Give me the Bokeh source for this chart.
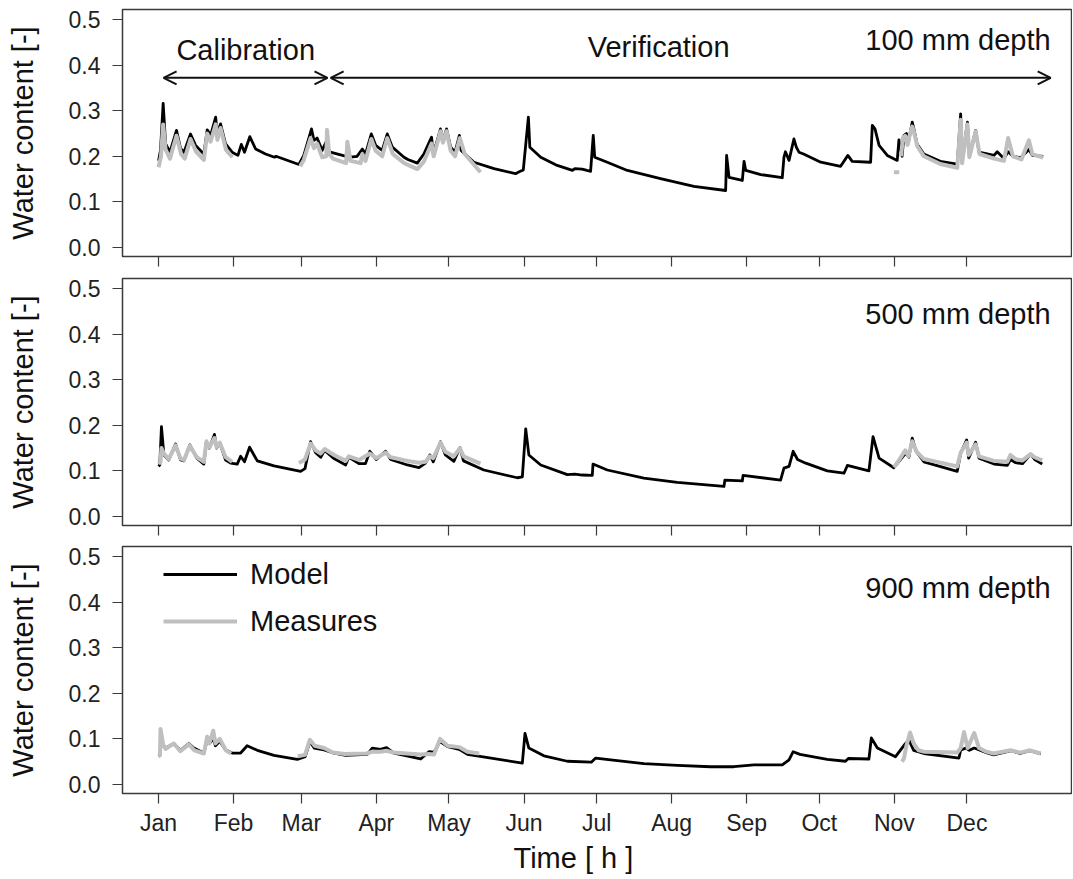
import math
from bokeh.plotting import figure
from bokeh.models import (Range1d, FixedTicker, NumeralTickFormatter, Label, Arrow,
                          OpenHead, Legend, LegendItem, ColumnDataSource, Title)
from bokeh.layouts import column
from bokeh.embed import file_html
from bokeh.resources import INLINE

NaN = float("nan")

# ---------------- data (x = day of year, 0 = 1 Jan) ----------------
month_ticks = [0, 31, 59, 90, 120, 151, 181, 212, 243, 273, 304, 334]
month_labels = ["Jan", "Feb", "Mar", "Apr", "May", "Jun",
                "Jul", "Aug", "Sep", "Oct", "Nov", "Dec"]
y_ticks = [0.0, 0.1, 0.2, 0.3, 0.4, 0.5]
depth_labels = ["100 mm depth", "500 mm depth", "900 mm depth"]
series_names = ["Model", "Measures"]

# 100 mm depth - model
m100_day = [0, 0.8, 1.9, 2.9, 4.7, 7.4, 9.1, 10.5, 13.2, 15.3, 18.7, 20.1, 21.5, 23.6, 24.2,
            25.6, 27.7, 30.4, 32.8, 34.2, 35.5, 37.7, 40.1, 44.2, 47.9, 48.5, 58, 60, 63.2,
            64.2, 65.5, 67.6, 69.5, 70.5, 71, 77.5, 78, 79.3, 82, 84.2, 85.5, 87.9, 89.7,
            92.4, 94.5, 96.6, 101.4, 103, 106.9, 109.6, 112.8, 113.5, 116.5, 117.5, 119,
            120.7, 122.5, 124.3, 125, 130.3, 138.6, 147.5, 149, 150.7, 152.8, 153.4, 157.9,
            164.7, 171, 172, 175, 177, 178.5, 179.6, 180.2, 185.4, 193.7, 207.4, 221.2,
            234.3, 234.7, 235.7, 241.2, 241.9, 242.6, 248.8, 257.7, 258.4, 259, 260.5,
            262.5, 263.5, 264.6, 266.5, 273.6, 281.8, 284.8, 286.6, 294.2, 294.9, 296,
            297.7, 301.1, 305.2, 305.9, 307.2, 308, 309, 310, 311.4, 312, 313.4, 316.2, 323,
            330, 331.4, 332, 334.2, 335, 337.6, 339, 345.2, 346.5, 349.3, 351, 353, 356.2,
            359.6, 361, 365.5]
m100_val = [0.19, 0.213, 0.316, 0.228, 0.209, 0.257, 0.217, 0.209, 0.249, 0.224, 0.205, 0.258,
            0.246, 0.286, 0.249, 0.271, 0.227, 0.209, 0.202, 0.226, 0.209, 0.243, 0.216, 0.205,
            0.198, 0.2, 0.182, 0.202, 0.26, 0.235, 0.24, 0.213, 0.235, 0.21, 0.209, 0.2, 0.215,
            0.198, 0.2, 0.216, 0.205, 0.249, 0.224, 0.213, 0.249, 0.22, 0.198, 0.193, 0.185,
            0.205, 0.242, 0.205, 0.26, 0.235, 0.26, 0.22, 0.209, 0.246, 0.213, 0.187, 0.173,
            0.162, 0.166, 0.17, 0.286, 0.22, 0.198, 0.18, 0.169, 0.173, 0.172, 0.169, 0.167,
            0.246, 0.198, 0.187, 0.169, 0.151, 0.134, 0.125, 0.202, 0.154, 0.147, 0.189,
            0.169, 0.16, 0.153, 0.198, 0.21, 0.191, 0.238, 0.22, 0.209, 0.205, 0.187, 0.178,
            0.202, 0.189, 0.187, 0.268, 0.26, 0.224, 0.202, 0.191, 0.236, 0.2, 0.246, 0.25,
            0.235, 0.275, 0.262, 0.227, 0.205, 0.189, 0.183, 0.293, 0.19, 0.275, 0.2, 0.257,
            0.209, 0.202, 0.21, 0.195, 0.21, 0.2, 0.197, 0.215, 0.202, 0.2]

# 100 mm depth - measures (NaN = no data)
g100_day = [0, 1, 1.9, 2.9, 4.7, 7.4, 9.3, 10.8, 13.2, 15.5, 18.7, 20.1, 21.5, 23.6, 24.3, 25.6,
            27.9, 30.5, NaN,
            58.5, 60, 62.8, 64.2, 65.5, 67.6, 69.3, 69.6, 70.5, 72, 77.5, 78, 79.3, 83.5, 84.2,
            85.5, 87.9, 89.7, 92.4, 94.5, 96.8, 101.5, 106.9, 109.6, 112.8, 113.7, 116.5,
            117.5, 119, 120.7, 122.5, 124.5, 126.5, 133, NaN,
            303.8, 306, NaN,
            306.8, 307.5, 308.5, 309.5, 310.5, 311.4, 312, 313.5, 316.2, 323, 330, 331.4, 332,
            334.2, 335, 337.6, 339.2, 345.2, 349.3, 351, 353, 356.5, 359.6, 361, 365.5]
g100_val = [0.176, 0.2, 0.27, 0.215, 0.195, 0.245, 0.205, 0.195, 0.238, 0.21, 0.192, 0.25,
            0.232, 0.27, 0.236, 0.262, 0.214, 0.198, NaN,
            0.178, 0.192, 0.24, 0.218, 0.228, 0.198, 0.2, 0.258, 0.205, 0.195, 0.185, 0.232,
            0.19, 0.185, 0.205, 0.19, 0.238, 0.212, 0.2, 0.24, 0.205, 0.185, 0.172, 0.188,
            0.228, 0.2, 0.255, 0.23, 0.255, 0.212, 0.2, 0.24, 0.205, 0.165, NaN,
            0.165, 0.165, NaN,
            0.2, 0.24, 0.245, 0.225, 0.25, 0.265, 0.255, 0.222, 0.2, 0.183, 0.175, 0.28, 0.185,
            0.27, 0.198, 0.255, 0.205, 0.195, 0.19, 0.24, 0.2, 0.193, 0.235, 0.205, 0.197]

# 500 mm depth - model
m500_day = [0, 0.5, 1.2, 2.2, 4.2, 7, 9.1, 10.5, 12.9, 15.8, 18.7, 19.8, 21, 23.1, 24, 25.3,
            27.7, 29.8, 32.5, 33.9, 35.5, 37.6, 40.8, 47.7, 58.7, 60.5, 62.8, 64.9, 67, 68.6,
            72.5, 77.3, 78.6, 82.8, 85.5, 87.3, 90, 93.8, 95.9, 102.8, 107.6, 110.3, 112.1,
            113.5, 116.5, 118.5, 122, 124.5, 126, 134.4, 148.2, 150.3, 151.7, 153, 157.9,
            168.9, 172, 175, 179.2, 179.5, 185.4, 200.5, 214.3, 233.6, 234, 241.2, 241.5, 257,
            258.4, 260.5, 262.2, 264, 267.4, 276.3, 283.2, 284.6, 293.5, 295.2, 297.7, 303.8,
            305, 308.7, 310, 311.4, 313, 316.2, 330, 331.4, 333.9, 334.7, 337.6, 339, 345.2,
            350.7, 352, 354, 357, 360.3, 362, 365.1]
m500_val = [0.11, 0.113, 0.197, 0.135, 0.124, 0.159, 0.124, 0.122, 0.157, 0.128, 0.115, 0.164,
            0.15, 0.18, 0.15, 0.161, 0.124, 0.117, 0.115, 0.132, 0.12, 0.152, 0.122, 0.111,
            0.099, 0.105, 0.164, 0.14, 0.13, 0.145, 0.127, 0.113, 0.13, 0.116, 0.116, 0.143,
            0.125, 0.143, 0.125, 0.113, 0.107, 0.117, 0.135, 0.12, 0.164, 0.135, 0.121, 0.151,
            0.122, 0.102, 0.085, 0.087, 0.192, 0.135, 0.113, 0.092, 0.093, 0.091, 0.09, 0.115,
            0.102, 0.084, 0.075, 0.066, 0.08, 0.078, 0.09, 0.08, 0.106, 0.11, 0.143, 0.125,
            0.117, 0.1, 0.095, 0.112, 0.1, 0.175, 0.128, 0.107, 0.115, 0.139, 0.13, 0.172,
            0.143, 0.12, 0.099, 0.139, 0.168, 0.128, 0.163, 0.128, 0.115, 0.112, 0.125, 0.118,
            0.116, 0.137, 0.125, 0.115]

# 500 mm depth - measures
g500_day = [0, 0.8, 1.2, 2.2, 4.2, 7, 9.1, 10.5, 12.9, 15.8, 18.7, 19.8, 21, 23.1, 24, 25.3,
            27.7, 30.4, NaN,
            58, 60.5, 62.8, 64.9, 67, 68.6, 72.5, 77.3, 78.6, 82.8, 87.3, 90, 93.8, 95.9, 102.8,
            107.6, 110.3, 112.1, 113.5, 116.5, 118.5, 122, 124.5, 126, 133, NaN,
            303.8, 305.5, 308.5, 309.8, 311.4, 313.2, 316.2, 330, 331.4, 333.9, 334.7, 337.6,
            339, 345.2, 350.7, 352, 354, 357, 360.3, 362, 365.1]
g500_val = [0.115, 0.12, 0.15, 0.138, 0.126, 0.156, 0.127, 0.124, 0.155, 0.13, 0.12, 0.165,
            0.152, 0.172, 0.152, 0.162, 0.13, 0.12, NaN,
            0.117, 0.125, 0.16, 0.145, 0.138, 0.148, 0.135, 0.122, 0.132, 0.124, 0.138, 0.128,
            0.14, 0.13, 0.122, 0.118, 0.12, 0.132, 0.128, 0.162, 0.142, 0.132, 0.15, 0.132,
            0.116, NaN,
            0.108, 0.12, 0.145, 0.132, 0.165, 0.142, 0.126, 0.11, 0.14, 0.162, 0.135, 0.158,
            0.132, 0.122, 0.12, 0.135, 0.126, 0.123, 0.137, 0.13, 0.123]

# 900 mm depth - model
m900_day = [0, 0.6, 0.9, 1.5, 3, 6.3, 9, 12.5, 14.6, 18.7, 20.1, 21, 22.6, 23.5, 25.3, 27.7,
            30.4, 33.9, 36.6, 40.8, 47.7, 57.3, 60.6, 62.5, 64.3, 68.4, 72.5, 77.3, 86.2, 88.3,
            91.7, 94.2, 97.2, 108.3, 111.7, 113.8, 116.3, 119.4, 124.2, 127.6, 150.3, 151.4,
            153, 159.2, 168.9, 178.8, 180.6, 186.8, 200.5, 214.3, 228, 237.7, 246, 257.7,
            260.5, 262.2, 265, 276.3, 283.8, 285, 293.5, 294.5, 297, 304.5, 308, 310, 312,
            316.2, 330.7, 331.4, 333.5, 335, 337, 342, 345, 352, 356, 360, 364.5]
m900_val = [0.062, 0.064, 0.1, 0.09, 0.08, 0.09, 0.075, 0.09, 0.08, 0.069, 0.098, 0.09, 0.1,
            0.085, 0.095, 0.076, 0.069, 0.069, 0.085, 0.075, 0.064, 0.055, 0.061, 0.094, 0.08,
            0.076, 0.069, 0.064, 0.066, 0.08, 0.077, 0.081, 0.069, 0.056, 0.072, 0.071, 0.094,
            0.083, 0.077, 0.066, 0.047, 0.112, 0.08, 0.063, 0.051, 0.049, 0.058, 0.054, 0.046,
            0.042, 0.039, 0.039, 0.043, 0.043, 0.054, 0.072, 0.066, 0.055, 0.051, 0.057, 0.056,
            0.102, 0.08, 0.061, 0.086, 0.098, 0.075, 0.068, 0.058, 0.075, 0.08, 0.075, 0.08,
            0.07, 0.065, 0.074, 0.068, 0.074, 0.067]

# 900 mm depth - measures
g900_day = [0, 0.6, 0.8, 2, 3, 6.3, 9, 12.5, 14.8, 18.7, 20.1, 21, 22.6, 23.5, 25.3, 27.8, 30,
            NaN,
            57.5, 60.5, 62.5, 64.5, 68.4, 72, 77, 86, 88.3, 91.7, 94.2, 97, 108.3, 111.7, 113.8,
            116.3, 119.4, 124.2, 127.6, 132.5, NaN,
            307.2, 308, 309, 310.5, 312, 314, 316.2, 330, 331.4, 332.8, 334.3, 337, 339, 342,
            345, 352, 356, 360, 364.5]
g900_val = [0.062, 0.065, 0.122, 0.085, 0.078, 0.09, 0.073, 0.088, 0.075, 0.068, 0.105, 0.09,
            0.118, 0.09, 0.1, 0.075, 0.068, NaN,
            0.062, 0.065, 0.098, 0.085, 0.08, 0.07, 0.067, 0.068, 0.072, 0.072, 0.074, 0.07,
            0.066, 0.067, 0.066, 0.1, 0.085, 0.082, 0.072, 0.068, NaN,
            0.05, 0.058, 0.085, 0.114, 0.09, 0.075, 0.072, 0.07, 0.08, 0.115, 0.08, 0.113, 0.08,
            0.072, 0.068, 0.075, 0.07, 0.075, 0.068]

# ---------------- styling ----------------
FONT = "Liberation Sans"
FRAME = "#3a3a3a"
TEXT = "#111111"
MODEL_COLOR = "#000000"
MEAS_COLOR = "#bfbfbf"
W = 1072


def make_panel(height, top, bottom, show_labels):
    p = figure(width=W, height=height,
               x_range=Range1d(-14.9, 377.2), y_range=Range1d(-0.0197, 0.5219),
               output_backend="svg", toolbar_location=None,
               min_border_left=122, min_border_right=1,
               min_border_top=top, min_border_bottom=bottom)
    p.grid.visible = False
    p.outline_line_color = FRAME
    p.outline_line_width = 1.5
    p.background_fill_color = "white"
    p.border_fill_color = "white"

    ya = p.yaxis[0]
    ya.ticker = FixedTicker(ticks=y_ticks)
    ya.formatter = NumeralTickFormatter(format="0.0")
    ya.major_label_text_font = FONT
    ya.major_label_text_font_size = "23px"
    ya.major_label_text_color = "#222222"
    ya.major_label_standoff = 12
    ya.major_tick_out = 10
    ya.major_tick_in = 0
    ya.minor_tick_out = 0
    ya.minor_tick_in = 0
    ya.major_tick_line_color = FRAME
    ya.major_tick_line_width = 1.2
    ya.axis_line_color = None
    ya.axis_label = "Water content [-]"
    ya.axis_label_text_font = FONT
    ya.axis_label_text_font_size = "29px"
    ya.axis_label_text_font_style = "normal"
    ya.axis_label_text_color = TEXT
    ya.axis_label_standoff = 27

    xa = p.xaxis[0]
    xa.axis_line_color = None
    if show_labels:
        xa.ticker = FixedTicker(ticks=month_ticks)
        xa.major_label_overrides = {t: lab for t, lab in zip(month_ticks, month_labels)}
        xa.major_tick_out = 10
        xa.major_tick_in = 0
        xa.major_tick_line_color = FRAME
        xa.major_tick_line_width = 1.2
        xa.minor_tick_out = 0
        xa.minor_tick_in = 0
        xa.major_label_text_font = FONT
        xa.major_label_text_font_size = "23px"
        xa.major_label_text_color = "#222222"
        xa.major_label_standoff = 6
    else:
        # tick marks only (no labels): month positions drawn as minor ticks
        xa.ticker = FixedTicker(ticks=[], minor_ticks=month_ticks)
        xa.minor_tick_out = 10
        xa.minor_tick_in = 0
        xa.minor_tick_line_color = FRAME
        xa.minor_tick_line_width = 1.2
        xa.major_tick_out = 0
        xa.major_tick_in = 0
    return p


def add_series(p, mday, mval, gday, gval):
    rm = p.line(x="x", y="y", source=ColumnDataSource(dict(x=mday, y=mval)),
                line_color=MODEL_COLOR, line_width=2.8, line_join="round")
    rg = p.line(x="x", y="y", source=ColumnDataSource(dict(x=gday, y=gval)),
                line_color=MEAS_COLOR, line_width=4, line_join="round")
    return rm, rg


def text_label(p, text, x, y, align):
    p.add_layout(Label(x=x, y=y, text=text, text_align=align,
                       text_baseline="middle", text_font=FONT,
                       text_font_size="29px", text_color=TEXT))


# panel 1
p1 = make_panel(270, 9, 14, False)
add_series(p1, m100_day, m100_val, g100_day, g100_val)
text_label(p1, depth_labels[0], 368.6, 0.455, "right")
text_label(p1, "Calibration", 36, 0.432, "center")
text_label(p1, "Verification", 206.6, 0.439, "center")
for xs, xe in [(2.07, 69.8), (71.1, 368.6)]:
    p1.add_layout(Arrow(start=OpenHead(size=13, line_width=2, line_color=TEXT),
                        end=OpenHead(size=13, line_width=2, line_color=TEXT),
                        x_start=xs, y_start=0.372, x_end=xe, y_end=0.372,
                        line_width=2, line_color=TEXT))

# panel 2
p2 = make_panel(269, 8, 14, False)
add_series(p2, m500_day, m500_val, g500_day, g500_val)
text_label(p2, depth_labels[1], 368.6, 0.445, "right")

# panel 3
p3 = make_panel(339, 7, 85, True)
rm3, rg3 = add_series(p3, m900_day, m900_val, g900_day, g900_val)
text_label(p3, depth_labels[2], 368.6, 0.43, "right")
p3.add_layout(Title(text="Time [ h ]", align="left", offset=391, standoff=2,
                    text_font=FONT, text_font_size="29px", text_font_style="normal",
                    text_color=TEXT), "below")

legend = Legend(items=[LegendItem(label=series_names[0], renderers=[rm3]),
                       LegendItem(label=series_names[1], renderers=[rg3])],
                location=(41, 152), orientation="vertical",
                glyph_width=74, glyph_height=40, label_height=40, spacing=7,
                label_standoff=13, padding=0, margin=0,
                border_line_color=None, background_fill_alpha=0,
                label_text_font=FONT, label_text_font_size="29px",
                label_text_color=TEXT)
p3.add_layout(legend)

layout = column(p1, p2, p3, spacing=0)
open("out.html", "w").write(file_html(layout, INLINE))
